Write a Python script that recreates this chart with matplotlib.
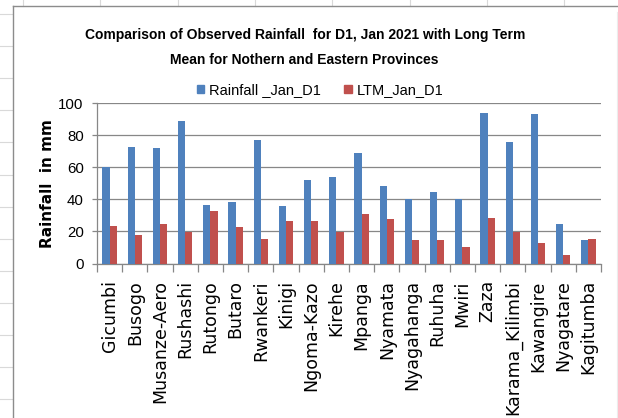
import numpy as np
import matplotlib
matplotlib.use('Agg')
import matplotlib.pyplot as plt
from matplotlib.patches import Patch
from matplotlib.lines import Line2D

# --- DATOS ---
estaciones = ['Gicumbi', 'Busogo', 'Musanze-Aero', 'Rushashi', 'Rutongo', 'Butaro',
              'Rwankeri', 'Kinigi', 'Ngoma-Kazo', 'Kirehe', 'Mpanga', 'Nyamata',
              'Nyagahanga', 'Ruhuha', 'Mwiri', 'Zaza', 'Karama_Kilimbi', 'Kawangire',
              'Nyagatare', 'Kagitumba']
rainfall_jan = [60, 72.7, 71.9, 88.7, 36.5, 38.5, 76.9, 35.6, 51.9, 53.7,
                68.7, 48.5, 40, 44.6, 40.4, 93.7, 75.8, 93.1, 24.6, 14.4]
ltm_jan = [23.5, 17.5, 24.4, 19.8, 32.5, 22.5, 15.4, 26.5, 26.5, 19.8,
           30.6, 27.7, 14.4, 14.4, 10.6, 28.7, 19.8, 12.5, 5.6, 15.4]
yticks = [0, 20, 40, 60, 80, 100]

AZUL = '#4F81BD'
ROJO = '#C0504D'
GRIS = '#878787'
ESTRECHA = ['Liberation Sans', 'DejaVu Sans']

W, H = 618, 418
fig = plt.figure(figsize=(W / 100, H / 100), dpi=100)

def px(x, y):
    # pixel (desde arriba-izquierda) -> fraccion de figura
    return x / W, 1 - y / H

# --- fondo tipo hoja de calculo ---
for k in range(13):
    y = 14 + 32.1 * k
    fig.add_artist(Line2D([0, 12 / W], [1 - y / H] * 2, color='#d9d9d9', lw=0.8))
for k in range(8):
    x = 23 + 77.3 * k
    fig.add_artist(Line2D([x / W] * 2, [1, 1 - 6 / H], color='#d9d9d9', lw=0.8))
fig.add_artist(Line2D([13 / W, 13 / W], [0, 1 - 6 / H], color='#8c8c8c', lw=1.0))
fig.add_artist(Line2D([13 / W, 1], [1 - 6 / H] * 2, color='#8c8c8c', lw=1.0))
fig.add_artist(Line2D([616.5 / W] * 2, [0, 1 - 12 / H], color='#ececec', lw=0.8))

# --- ejes ---
x0, x1 = 97, 601
ytop, ybot = 103.3, 263.5
ax = fig.add_axes([x0 / W, 1 - ybot / H, (x1 - x0) / W, (ybot - ytop) / H])

n = len(estaciones)
pos = np.arange(n)
bw = 1 / 3.5
ax.bar(pos - bw / 2, rainfall_jan, width=bw, color=AZUL, zorder=3)
ax.bar(pos + bw / 2, ltm_jan, width=bw, color=ROJO, zorder=3)

ax.set_xlim(-0.5, n - 0.5)
ax.set_ylim(0, 100)
ax.set_yticks(yticks)
ax.set_yticklabels([str(v) for v in yticks], family=ESTRECHA, fontsize=10.8)
ax.yaxis.grid(True, color=GRIS, lw=0.9, zorder=0)

# ticks mayores en los limites de categoria, etiquetas en los centros
ax.set_xticks(np.arange(n + 1) - 0.5)
ax.set_xticklabels([])
ax.set_xticks(pos, minor=True)
ax.set_xticklabels(estaciones, minor=True, rotation=90, fontsize=12.5, va='top')
ax.tick_params(axis='x', which='major', length=6, color=GRIS, width=0.9, direction='out')
ax.tick_params(axis='x', which='minor', length=0, pad=12)
ax.tick_params(axis='y', length=3.6, color=GRIS, width=0.9, pad=6)

for s in ['top', 'right']:
    ax.spines[s].set_visible(False)
for s in ['left', 'bottom']:
    ax.spines[s].set_color(GRIS)
    ax.spines[s].set_linewidth(0.9)

ax.set_ylabel('Rainfall  in mm', fontweight='bold', fontsize=11)
ax.yaxis.set_label_coords((55 - x0) / (x1 - x0), 0.5)

# --- titulo ---
fig.text(*px(305, 35), 'Comparison of Observed Rainfall  for D1, Jan 2021 with Long Term',
         family=ESTRECHA, fontweight='bold', fontsize=10, ha='center', va='center')
fig.text(*px(304, 60), 'Mean for Nothern and Eastern Provinces',
         family=ESTRECHA, fontweight='bold', fontsize=10, ha='center', va='center')

# --- leyenda ---
handles = [Patch(color=AZUL), Patch(color=ROJO)]
fig.legend(handles, ['Rainfall _Jan_D1', 'LTM_Jan_D1'], loc='center',
           bbox_to_anchor=px(320, 90), ncol=2, frameon=False,
           prop={'family': ESTRECHA, 'size': 10.5},
           handlelength=0.5, handleheight=0.5, handletextpad=0.35,
           columnspacing=1.6, borderpad=0)

fig.savefig('out.png', dpi=100)
